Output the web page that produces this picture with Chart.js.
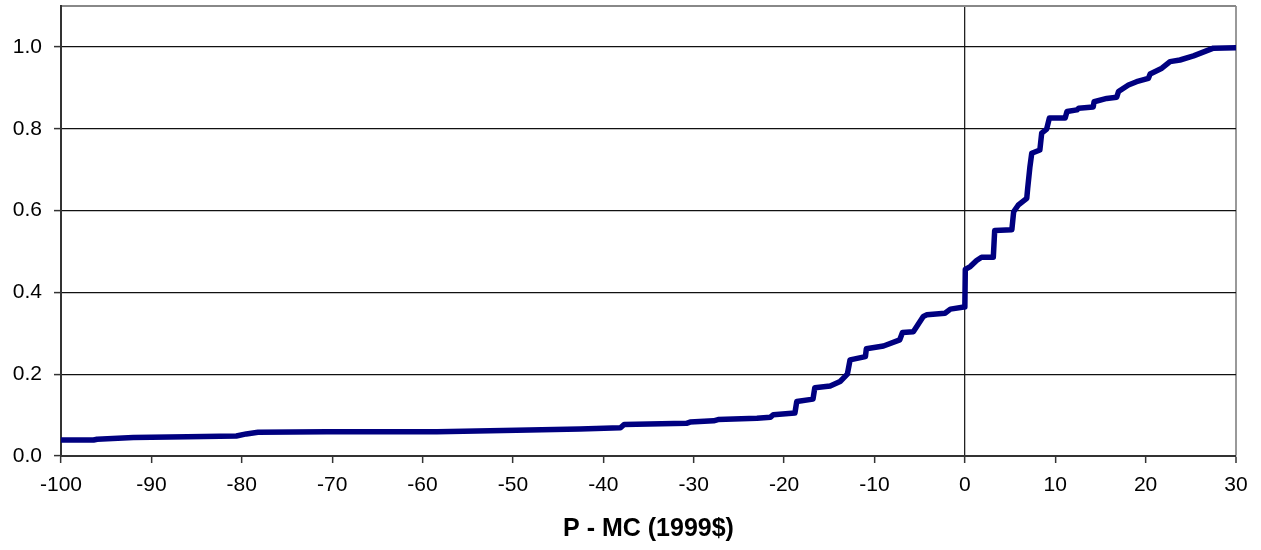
<!DOCTYPE html>
<html>
<head>
<meta charset="utf-8">
<script src="https://cdn.jsdelivr.net/npm/chart.js@4.4.1/dist/chart.umd.min.js"></script>
<style>
    html, body { margin: 0; padding: 0; background: #fff; }
    #wrap { width: 1261px; height: 550px; }
</style>
</head>
<body>
<div id="wrap"><canvas id="cdfChart"></canvas></div>
<script>
// P - MC (1999$) on x, cumulative share on y
var priceMinusCost = [
    -100, -96.4, -96.0, -92.0, -86.0, -80.6, -79.5, -78.2, -70.6, -58.4,
    -49.6, -42.6, -38.1, -37.7, -30.8, -30.4, -27.8, -27.3, -23.0, -21.5,
    -21.2, -18.8, -18.6, -16.8, -16.6, -14.9, -13.8, -13.0, -12.7, -11.0,
    -10.9, -9.0, -7.2, -6.9, -5.7, -4.6, -4.2, -2.2, -1.6, -0.1,
    0.0, 0.05, 0.6, 1.3, 1.85, 3.15, 3.3, 5.2, 5.4, 5.9,
    6.85, 6.95, 7.2, 7.4, 8.3, 8.5, 9.05, 9.35, 11.1, 11.3,
    12.4, 12.6, 14.2, 14.3, 15.7, 16.8, 17.0, 18.1, 19.0, 20.3,
    20.5, 21.8, 22.7, 23.8, 25.3, 27.5, 30
];
var cumShare = [
    0.039, 0.039, 0.041, 0.045, 0.047, 0.049, 0.054, 0.058, 0.059, 0.059,
    0.063, 0.066, 0.069, 0.077, 0.080, 0.083, 0.086, 0.089, 0.092, 0.095,
    0.101, 0.105, 0.133, 0.139, 0.167, 0.171, 0.182, 0.200, 0.235, 0.243,
    0.262, 0.269, 0.284, 0.302, 0.304, 0.341, 0.345, 0.349, 0.359, 0.364,
    0.364, 0.456, 0.463, 0.478, 0.486, 0.486, 0.551, 0.553, 0.597, 0.613,
    0.630, 0.654, 0.707, 0.740, 0.748, 0.789, 0.799, 0.826, 0.826, 0.842,
    0.846, 0.850, 0.853, 0.866, 0.874, 0.877, 0.891, 0.907, 0.915, 0.923,
    0.934, 0.948, 0.964, 0.968, 0.978, 0.997, 0.998
];
var xTicks = [-100, -90, -80, -70, -60, -50, -40, -30, -20, -10, 0, 10, 20, 30];
var yTicks = [0, 0.2, 0.4, 0.6, 0.8, 1.0, 1.1];

var points = priceMinusCost.map((x, i) => ({ x: x, y: cumShare[i] }));

const ctx = document.getElementById('cdfChart');

new Chart(ctx, {
    type: 'scatter',
    data: {
        datasets: [{
            data: points,
            showLine: true,
            borderColor: '#000080',
            borderWidth: 5.5,
            borderJoinStyle: 'round',
            borderCapStyle: 'round',
            pointRadius: 0,
            tension: 0
        }]
    },
    options: {
        responsive: true,
        maintainAspectRatio: false,
        animation: false,
        events: [],
        layout: {
            padding: { left: 0, right: 25, top: 6, bottom: 0 }
        },
        plugins: {
            legend: { display: false },
            tooltip: { enabled: false }
        },
        scales: {
            x: {
                type: 'linear',
                min: -100,
                max: 30,
                afterBuildTicks: function (scale) {
                    scale.ticks = xTicks.map(v => ({ value: v }));
                },
                afterFit: function (scale) {
                    scale.height = 94;
                    scale.paddingLeft = 0;
                    scale.paddingRight = 0;
                },
                ticks: {
                    color: '#000',
                    padding: 10,
                    maxRotation: 0,
                    autoSkip: false,
                    font: { family: 'Liberation Sans, Arial', size: 21 },
                    callback: function (v) { return String(v); }
                },
                grid: {
                    drawTicks: true,
                    tickLength: 7,
                    tickColor: '#333',
                    tickWidth: 1.5,
                    color: function (c) {
                        if (!c.tick) return 'transparent';
                        if (c.tick.value === 0) return '#222';
                        if (c.tick.value === 30) return '#999';
                        return 'transparent';
                    },
                    lineWidth: function (c) {
                        if (c.tick && c.tick.value === 30) return 2;
                        return 1.3;
                    }
                },
                border: { color: '#333', width: 2 },
                title: {
                    display: true,
                    text: 'P - MC (1999$)',
                    color: '#000',
                    font: { family: 'Liberation Sans, Arial', size: 25, weight: 'bold' },
                    padding: { top: 0, bottom: 6 }
                }
            },
            y: {
                type: 'linear',
                min: 0,
                max: 1.1,
                afterBuildTicks: function (scale) {
                    scale.ticks = yTicks.map(v => ({ value: v }));
                },
                afterFit: function (scale) {
                    scale.width = 61;
                    scale.paddingTop = 0;
                    scale.paddingBottom = 0;
                },
                ticks: {
                    color: '#000',
                    padding: 12,
                    autoSkip: false,
                    font: { family: 'Liberation Sans, Arial', size: 21 },
                    callback: function (v) {
                        return v > 1.05 ? '' : v.toFixed(1);
                    }
                },
                grid: {
                    drawTicks: true,
                    tickLength: 7,
                    tickColor: function (c) {
                        return c.tick && c.tick.value > 1.05 ? 'transparent' : '#333';
                    },
                    tickWidth: 1.5,
                    color: function (c) {
                        if (!c.tick) return 'transparent';
                        if (c.tick.value === 0) return 'transparent';
                        if (c.tick.value > 1.05) return '#888';
                        return '#111';
                    },
                    lineWidth: function (c) {
                        if (c.tick && c.tick.value > 1.05) return 2;
                        return 1.2;
                    }
                },
                border: { color: '#333', width: 2 }
            }
        }
    }
});
</script>
</body>
</html>
